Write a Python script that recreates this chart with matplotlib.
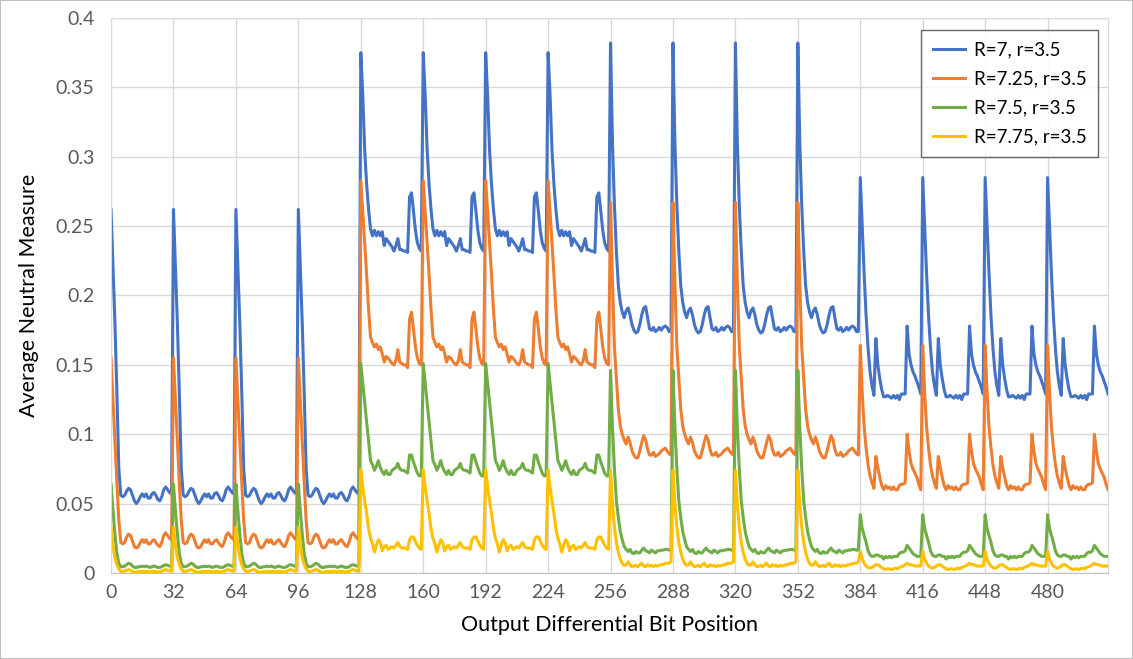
import matplotlib
matplotlib.use("Agg")
import matplotlib.pyplot as plt
from matplotlib.ticker import FuncFormatter
from matplotlib.patches import Rectangle

# one 32-bit block for each quarter (0-127, 128-255, 256-383, 384-511)
blue_a = [0.262, 0.222, 0.180, 0.130, 0.075, 0.056, 0.055, 0.056, 0.059, 0.061, 0.060, 0.056, 0.052, 0.050, 0.052, 0.055,
          0.057, 0.055, 0.057, 0.054, 0.054, 0.057, 0.058, 0.056, 0.053, 0.052, 0.055, 0.060, 0.062, 0.060, 0.058, 0.057]
orange_a = [0.155, 0.125, 0.095, 0.065, 0.038, 0.022, 0.021, 0.022, 0.026, 0.028, 0.027, 0.023, 0.019, 0.018, 0.019, 0.022,
            0.024, 0.022, 0.024, 0.021, 0.021, 0.023, 0.024, 0.022, 0.020, 0.019, 0.022, 0.027, 0.029, 0.027, 0.025, 0.024]
green_a = [0.064, 0.045, 0.028, 0.014, 0.007, 0.0045, 0.0045, 0.005, 0.006, 0.007, 0.0065, 0.005, 0.004, 0.004, 0.0045, 0.0045,
           0.005, 0.0045, 0.005, 0.0045, 0.004, 0.0045, 0.005, 0.0045, 0.004, 0.004, 0.0045, 0.0055, 0.006, 0.0055, 0.005, 0.0045]
yellow_a = [0.033, 0.020, 0.011, 0.006, 0.003, 0.0012, 0.001, 0.0015, 0.002, 0.0025, 0.002, 0.001, 0.0005, 0.0005, 0.001, 0.001,
            0.0012, 0.001, 0.0012, 0.001, 0.001, 0.001, 0.0012, 0.001, 0.0008, 0.0008, 0.0012, 0.002, 0.0025, 0.002, 0.0015, 0.0012]

blue_b = [0.375, 0.345, 0.305, 0.280, 0.262, 0.248, 0.243, 0.247, 0.243, 0.246, 0.243, 0.246, 0.236, 0.241, 0.239, 0.237,
          0.235, 0.232, 0.236, 0.241, 0.233, 0.233, 0.232, 0.232, 0.231, 0.271, 0.274, 0.261, 0.247, 0.238, 0.234, 0.232]
orange_b = [0.283, 0.261, 0.238, 0.215, 0.190, 0.170, 0.166, 0.163, 0.165, 0.161, 0.163, 0.158, 0.152, 0.156, 0.155, 0.153,
            0.151, 0.150, 0.153, 0.161, 0.152, 0.151, 0.150, 0.150, 0.148, 0.183, 0.188, 0.176, 0.163, 0.155, 0.151, 0.150]
green_b = [0.151, 0.137, 0.123, 0.109, 0.095, 0.081, 0.078, 0.074, 0.077, 0.081, 0.076, 0.073, 0.071, 0.074, 0.071, 0.071,
           0.074, 0.075, 0.076, 0.079, 0.075, 0.074, 0.074, 0.073, 0.072, 0.085, 0.085, 0.080, 0.076, 0.072, 0.070, 0.070]
yellow_b = [0.0745, 0.062, 0.052, 0.043, 0.032, 0.025, 0.021, 0.015, 0.020, 0.024, 0.022, 0.016, 0.019, 0.020, 0.017, 0.018,
            0.019, 0.018, 0.020, 0.022, 0.019, 0.018, 0.018, 0.018, 0.017, 0.024, 0.026, 0.026, 0.023, 0.020, 0.018, 0.017]

blue_c = [0.382, 0.310, 0.265, 0.232, 0.207, 0.195, 0.188, 0.184, 0.189, 0.191, 0.186, 0.179, 0.175, 0.173, 0.174, 0.179,
          0.186, 0.191, 0.192, 0.184, 0.176, 0.175, 0.177, 0.174, 0.175, 0.177, 0.175, 0.177, 0.178, 0.177, 0.174, 0.174]
orange_c = [0.267, 0.210, 0.163, 0.140, 0.118, 0.106, 0.100, 0.096, 0.093, 0.098, 0.094, 0.088, 0.085, 0.083, 0.083, 0.088,
            0.094, 0.099, 0.096, 0.089, 0.085, 0.085, 0.087, 0.084, 0.085, 0.086, 0.088, 0.089, 0.090, 0.088, 0.086, 0.085]
green_c = [0.146, 0.105, 0.075, 0.052, 0.040, 0.030, 0.024, 0.019, 0.017, 0.0155, 0.017, 0.0145, 0.014, 0.0155, 0.0145, 0.0145,
           0.0165, 0.018, 0.016, 0.0155, 0.0145, 0.0165, 0.0155, 0.0145, 0.016, 0.016, 0.0165, 0.0165, 0.017, 0.017, 0.0165, 0.0165]
yellow_c = [0.074, 0.050, 0.033, 0.022, 0.015, 0.010, 0.007, 0.0055, 0.006, 0.008, 0.006, 0.0045, 0.005, 0.0055, 0.0045, 0.006,
            0.007, 0.005, 0.0045, 0.006, 0.005, 0.0055, 0.0045, 0.0055, 0.005, 0.0055, 0.006, 0.006, 0.007, 0.007, 0.007, 0.008]

blue_d = [0.285, 0.250, 0.215, 0.185, 0.162, 0.145, 0.135, 0.128, 0.169, 0.150, 0.140, 0.132, 0.127, 0.127, 0.128, 0.127,
          0.126, 0.128, 0.126, 0.128, 0.125, 0.129, 0.129, 0.129, 0.178, 0.158, 0.150, 0.145, 0.142, 0.138, 0.134, 0.129]
orange_d = [0.164, 0.130, 0.105, 0.090, 0.078, 0.070, 0.065, 0.061, 0.084, 0.076, 0.069, 0.063, 0.060, 0.063, 0.061, 0.062,
            0.060, 0.062, 0.060, 0.060, 0.063, 0.064, 0.064, 0.065, 0.100, 0.088, 0.079, 0.075, 0.072, 0.069, 0.064, 0.060]
green_d = [0.042, 0.032, 0.027, 0.022, 0.016, 0.013, 0.012, 0.012, 0.013, 0.013, 0.012, 0.012, 0.010, 0.012, 0.011, 0.012,
           0.011, 0.012, 0.012, 0.012, 0.014, 0.015, 0.015, 0.016, 0.020, 0.018, 0.016, 0.014, 0.013, 0.012, 0.012, 0.012]
yellow_d = [0.0155, 0.010, 0.007, 0.005, 0.004, 0.0035, 0.004, 0.005, 0.006, 0.006, 0.005, 0.004, 0.003, 0.0025, 0.003, 0.003,
            0.0025, 0.003, 0.0035, 0.003, 0.004, 0.0045, 0.005, 0.006, 0.007, 0.006, 0.006, 0.0055, 0.005, 0.005, 0.005, 0.005]

# the four blocks inside each quarter look the same on the chart
r7 = blue_a * 4 + blue_b * 4 + blue_c * 4 + blue_d * 4
r725 = orange_a * 4 + orange_b * 4 + orange_c * 4 + orange_d * 4
r75 = green_a * 4 + green_b * 4 + green_c * 4 + green_d * 4
r775 = yellow_a * 4 + yellow_b * 4 + yellow_c * 4 + yellow_d * 4

labels = ["R=7, r=3.5", "R=7.25, r=3.5", "R=7.5, r=3.5", "R=7.75, r=3.5"]
colors = ["#4472C4", "#ED7D31", "#70AD47", "#FFC000"]
xticks = list(range(0, 512, 32))

plt.rcParams['font.family'] = ['Lato', 'DejaVu Sans']

fig = plt.figure(figsize=(11.33, 6.59), dpi=100)
ax = fig.add_axes([0.098, 0.1305, 0.880, 0.8422])

bits = list(range(len(r7)))
for ys, lab, col in zip([r7, r725, r75, r775], labels, colors):
    ax.plot(bits, ys, color=col, lw=2.2, label=lab, solid_joinstyle="round")

ax.set_xlim(0, 511)
ax.set_ylim(0, 0.4)
ax.set_xticks(xticks)
ax.set_yticks([i * 0.05 for i in range(9)])
ax.yaxis.set_major_formatter(FuncFormatter(lambda v, p: "%g" % round(v, 2)))
ax.grid(True, color="#d9d9d9", lw=1)
ax.set_axisbelow(True)
ax.tick_params(length=0, labelsize=14, colors="#595959")
ax.tick_params(axis="y", pad=12)
ax.tick_params(axis="x", pad=8)
for s in ["left", "top", "right"]:
    ax.spines[s].set_color("#d9d9d9")
ax.spines["bottom"].set_color("#bfbfbf")

ax.set_xlabel("Output Differential Bit Position", fontsize=15.5, color="#000000", labelpad=10)
ax.set_ylabel("Average Neutral Measure", fontsize=15.5, color="#000000", labelpad=12)

leg = ax.legend(loc="upper right", bbox_to_anchor=(0.969, 0.9545), bbox_transform=fig.transFigure,
                borderaxespad=0, fontsize=13.5, frameon=True, fancybox=False, handlelength=1.7,
                handletextpad=0.5, borderpad=0.6, labelspacing=0.65)
leg.get_frame().set_edgecolor("#404040")
leg.get_frame().set_linewidth(1)

fig.patches.append(Rectangle((0, 0), 1, 1, transform=fig.transFigure, fill=False,
                             edgecolor="#bfbfbf", lw=1.5))

fig.savefig("out.png", dpi=100)
